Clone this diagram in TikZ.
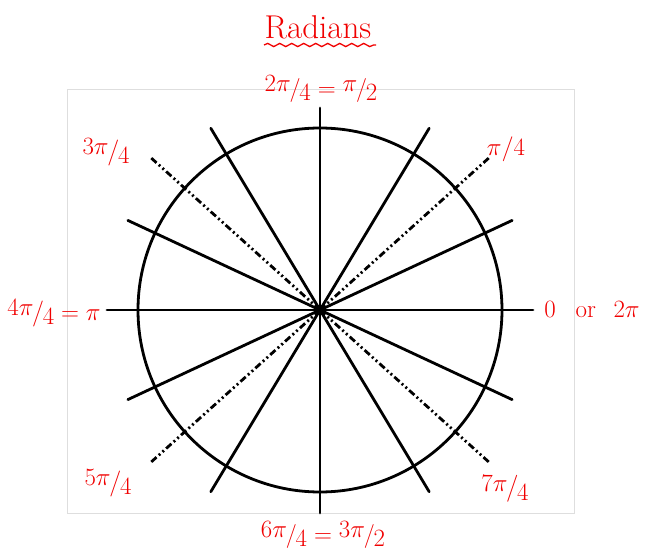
\documentclass[tikz,border=0pt]{standalone}
\usetikzlibrary{decorations.pathmorphing,calc}
\definecolor{hand}{RGB}{240,0,0}
\definecolor{frame}{RGB}{222,222,222}
\newcommand{\sfr}[2]{\raisebox{0.4ex}{$#1$}\kern-0.05em/\kern-0.05em\raisebox{-0.4ex}{$#2$}}
\begin{document}
\begin{tikzpicture}[x=1pt,y=1pt,
  spoke/.style={line width=2.8pt,line cap=round},
  dashspoke/.style={line width=2.8pt,dash pattern=on 7pt off 3pt on 2pt off 3pt on 2pt off 3pt},
  lbl/.style={text=hand,font=\fontsize{24}{26}\selectfont,inner sep=0pt}]
\useasboundingbox (0,0) rectangle (657,550);
\draw[frame,line width=1pt] (67,37) rectangle (574,460);
\coordinate (O) at (320,240);
% circle
\draw[line width=2.8pt] (O) circle[radius=182];
% solid spokes
\foreach \a/\l [count=\i] in {0/213,180/213,90/202,270/203,25/212,155/212,205/212,335/212,59/212,121/212,239/212,301/212}{
  \coordinate (e\i) at ($(O)+(\a:\l)$);
}
\foreach \i in {1,...,12}{\draw[spoke] (O) -- (e\i);}
% dash-dot spokes
\foreach \a [count=\i] in {42,138,222,318}{
  \coordinate (d\i) at ($(O)+(\a:228)$);
  \draw[dashspoke] (O) -- (d\i);
}
\fill (O) circle[radius=5];
% title
\node[text=hand,font=\fontsize{33}{35}\selectfont,inner sep=0pt] (title) at (318,523) {Radians};
\coordinate (wl) at (264,505);
\coordinate (wr) at (376,505);
\draw[hand,line width=1.3pt,decorate,decoration={snake,amplitude=1.6pt,segment length=12pt}] (wl) -- (wr);
% labels
\node[lbl] (ltop) at (321,461) {\sfr{2\pi}{4}${}={}$\sfr{\pi}{2}};
\node[lbl,font=\fontsize{26}{28}\selectfont] (l3) at (106,398) {\sfr{3\pi}{4}};
\node[lbl,font=\fontsize{26}{28}\selectfont] (l1) at (506,401) {$\pi/4$};
\node[lbl,font=\fontsize{26}{28}\selectfont] (l4) at (54,237) {\sfr{4\pi}{4}${}={}\pi$};
\node[lbl,font=\fontsize{25}{27}\selectfont] (l0) at (592,240) {$0$\hspace{0.8em}or\hspace{0.7em}$2\pi$};
\node[lbl,font=\fontsize{26}{28}\selectfont] (l5) at (108,67) {\sfr{5\pi}{4}};
\node[lbl,font=\fontsize{27}{29}\selectfont] (l7) at (505,61) {\sfr{7\pi}{4}};
\node[lbl] (lbot) at (323,15) {\sfr{6\pi}{4}${}={}$\sfr{3\pi}{2}};
\end{tikzpicture}
\end{document}
